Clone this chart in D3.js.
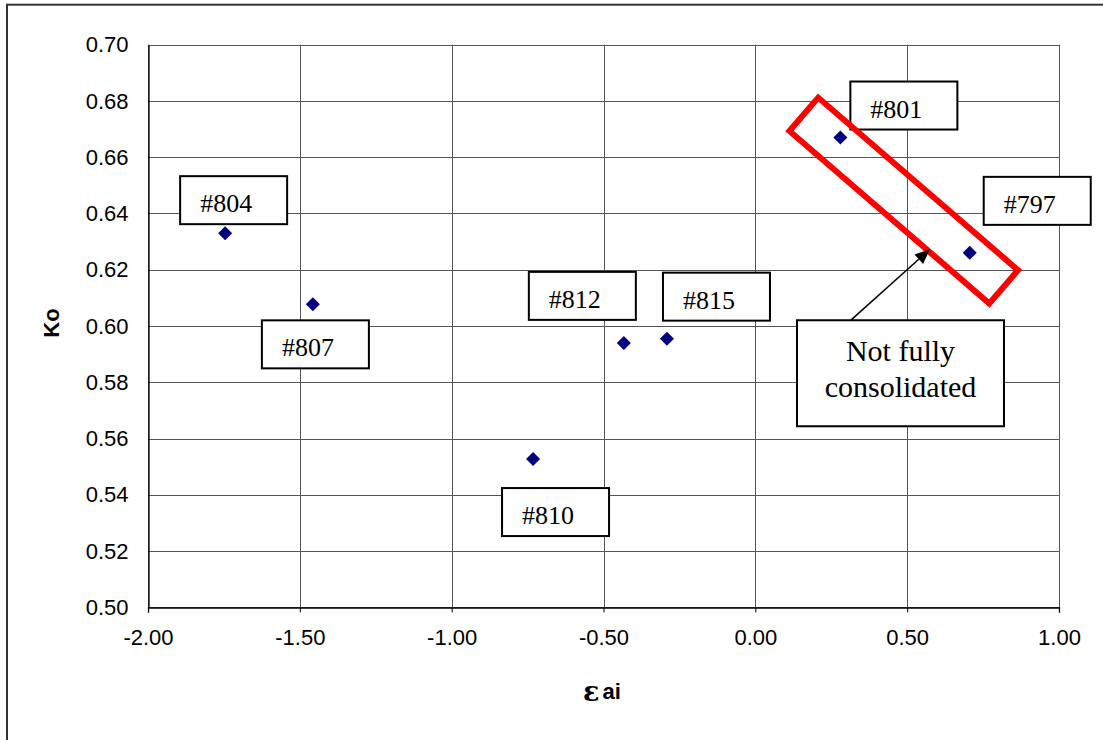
<!DOCTYPE html>
<html>
<head>
<meta charset="utf-8">
<script src="https://cdn.jsdelivr.net/npm/d3@7"></script>
<style>
  html, body { margin: 0; padding: 0; background: #fff; }
  svg { display: block; }
</style>
</head>
<body>
<svg id="chart" width="1103" height="740"></svg>
<script>
// Sample identifiers and measured values
const samples = ["#797", "#801", "#804", "#807", "#810", "#812", "#815"];
const epsAi   = [0.706, 0.280, -1.746, -1.457, -0.732, -0.433, -0.291];
const ko      = [0.626, 0.667, 0.633, 0.6077, 0.5527, 0.594, 0.5955];

// Axis ticks
const xTicks = [-2.0, -1.5, -1.0, -0.5, 0.0, 0.5, 1.0];
const yTicks = [0.50, 0.52, 0.54, 0.56, 0.58, 0.60, 0.62, 0.64, 0.66, 0.68, 0.70];

// Label box offsets from each point (pixels, top-left corner of box)
const labelOffsets = [
  [14, -76], [10, -56], [-45, -57], [-51, 16], [-31, 29], [-95, -71], [-4, -66]
];

const svg = d3.select("#chart");
const W = 1103, H = 740;
const plot = { left: 148, right: 1059, top: 44.7, bottom: 607.3 };

const x = d3.scaleLinear().domain([-2, 1]).range([plot.left, plot.right]);
const y = d3.scaleLinear().domain([0.5, 0.7]).range([plot.bottom, plot.top]);

// Outer chart border
svg.append("rect")
  .attr("x", 7).attr("y", 4.7)
  .attr("width", 1110).attr("height", 760)
  .attr("fill", "#fff").attr("stroke", "#333").attr("stroke-width", 2);

// Gridlines
const grid = svg.append("g").attr("stroke", "#555").attr("stroke-width", 1);
grid.selectAll("line.h").data(yTicks).join("line")
  .attr("x1", plot.left).attr("x2", plot.right)
  .attr("y1", d => Math.round(y(d)) + 0.5).attr("y2", d => Math.round(y(d)) + 0.5);
grid.selectAll("line.v").data(xTicks).join("line")
  .attr("y1", plot.top).attr("y2", plot.bottom)
  .attr("x1", d => Math.round(x(d)) + 0.5).attr("x2", d => Math.round(x(d)) + 0.5);

// Axes
const fmt = v => v.toFixed(2);
const yAxis = svg.append("g")
  .attr("transform", `translate(${Math.round(plot.left) + 0.5},0)`)
  .call(d3.axisLeft(y).tickValues(yTicks).tickFormat(fmt).tickSize(0).tickPadding(20));
const xAxis = svg.append("g")
  .attr("transform", `translate(0,${Math.round(plot.bottom) + 0.5})`)
  .call(d3.axisBottom(x).tickValues(xTicks).tickFormat(fmt).tickSize(5).tickPadding(17));

[xAxis, yAxis].forEach(a => {
  a.select(".domain").attr("stroke", "#000").attr("stroke-width", 1.3);
  a.selectAll(".tick line").attr("stroke", "#000");
  a.selectAll("text")
    .attr("fill", "#000")
    .style("font-family", "'Liberation Sans', Arial, sans-serif")
    .style("font-size", "22px");
});
xAxis.selectAll(".tick line").attr("y1", 0);

// Axis titles
svg.append("text")
  .attr("transform", "translate(59,323) rotate(-90)")
  .attr("text-anchor", "middle")
  .style("font-family", "'Liberation Sans', Arial, sans-serif")
  .style("font-size", "22px").style("font-weight", "bold")
  .text("Ko");

const xt = svg.append("text")
  .attr("x", 583).attr("y", 699)
  .style("font-family", "'Liberation Sans', Arial, sans-serif")
  .style("font-size", "22px").style("font-weight", "bold");
xt.append("tspan")
  .style("font-family", "'DejaVu Serif', 'Liberation Serif', serif")
  .style("font-size", "27px").attr("dy", 2).text("ε");
xt.append("tspan").attr("dx", 3).attr("dy", -2).text("ai");

// Data points (diamonds)
const data = samples.map((s, i) => ({ name: s, ex: epsAi[i], k: ko[i], off: labelOffsets[i] }));
const diamond = "M0,-7L7,0L0,7L-7,0Z";
svg.append("g").selectAll("path").data(data).join("path")
  .attr("d", diamond)
  .attr("transform", d => `translate(${x(d.ex)},${y(d.k)})`)
  .attr("fill", "#000080");

// Data labels
const labels = svg.append("g").selectAll("g").data(data).join("g")
  .attr("transform", d => `translate(${x(d.ex) + d.off[0]},${y(d.k) + d.off[1]})`);
labels.append("rect")
  .attr("width", 107).attr("height", 48)
  .attr("fill", "#fff").attr("stroke", "#000").attr("stroke-width", 2);
labels.append("text")
  .attr("x", 20).attr("y", 36)
  .style("font-family", "'Liberation Serif', 'Times New Roman', serif")
  .style("font-size", "26px")
  .attr("fill", "#000")
  .text(d => d.name);

// Highlight frame around the not-fully-consolidated samples
const frame = { cx: 0.4887, cy: 0.6446, w: 264, h: 44, angle: 40.8 };
svg.append("rect")
  .attr("x", -frame.w / 2).attr("y", -frame.h / 2)
  .attr("width", frame.w).attr("height", frame.h)
  .attr("transform", `translate(${x(frame.cx)},${y(frame.cy)}) rotate(${frame.angle})`)
  .attr("fill", "none").attr("stroke", "#ff0000").attr("stroke-width", 6);

// Callout arrow
const arrow = { x1: 0.3148, y1: 0.6021, x2: 0.575, y2: 0.6273 };
const ax1 = x(arrow.x1), ay1 = y(arrow.y1), ax2 = x(arrow.x2), ay2 = y(arrow.y2);
const ang = Math.atan2(ay2 - ay1, ax2 - ax1);
const headLen = 15, headW = 6.5;
const bx = ax2 - headLen * Math.cos(ang), by = ay2 - headLen * Math.sin(ang);
svg.append("line")
  .attr("x1", ax1).attr("y1", ay1).attr("x2", bx).attr("y2", by)
  .attr("stroke", "#000").attr("stroke-width", 1.5);
svg.append("path")
  .attr("d", `M${ax2},${ay2}L${bx + headW * Math.sin(ang)},${by - headW * Math.cos(ang)}L${bx - headW * Math.sin(ang)},${by + headW * Math.cos(ang)}Z`)
  .attr("fill", "#000");

// Note box
const note = { cx: 0.478, cy: 0.5832, w: 207, h: 106, lines: ["Not fully", "consolidated"] };
const ng = svg.append("g")
  .attr("transform", `translate(${x(note.cx)},${y(note.cy)})`);
ng.append("rect")
  .attr("x", -note.w / 2).attr("y", -note.h / 2)
  .attr("width", note.w).attr("height", note.h)
  .attr("fill", "#fff").attr("stroke", "#000").attr("stroke-width", 2);
ng.selectAll("text").data(note.lines).join("text")
  .attr("x", 0).attr("y", (d, i) => -12.7 + i * 36.7)
  .attr("text-anchor", "middle")
  .style("font-family", "'Liberation Serif', 'Times New Roman', serif")
  .style("font-size", "30px")
  .attr("fill", "#000")
  .text(d => d);
</script>
</body>
</html>
